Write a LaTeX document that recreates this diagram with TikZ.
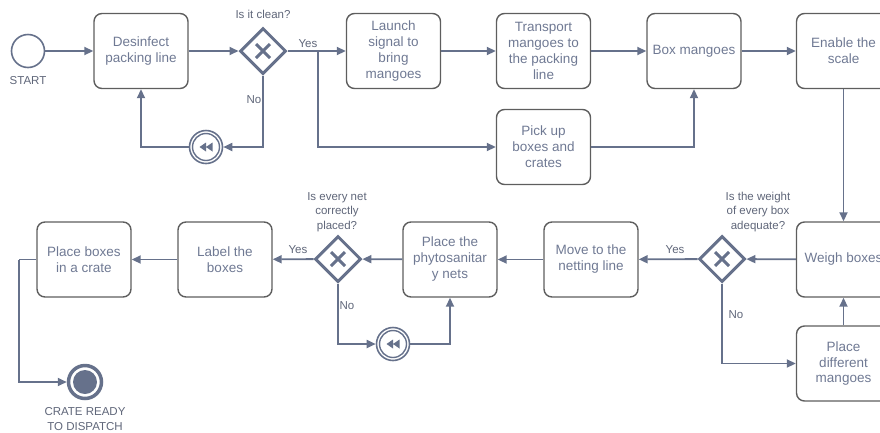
\documentclass[tikz,border=0pt]{standalone}
\usepackage{fontspec}
\setmainfont{Liberation Sans}
\usetikzlibrary{shapes.geometric,arrows.meta}
\definecolor{edgec}{HTML}{66718B}
\definecolor{boxc}{HTML}{5E5E5E}
\definecolor{txtc}{HTML}{6F7993}
\definecolor{lblc}{HTML}{5F6679}
\tikzset{
  task/.style={draw=boxc, line width=1.4pt, rounded corners=8pt, minimum width=94pt, minimum height=75pt, inner sep=0pt, align=center, text=txtc, font=\fontsize{13.5pt}{16pt}\selectfont},
  gate/.style={draw=edgec, line width=3pt, diamond, aspect=1, minimum width=46pt, minimum height=46pt, inner sep=0pt},
  ev/.style={draw=edgec, circle, minimum size=33pt, inner sep=0pt, line width=1.6pt},
  flow/.style={draw=edgec, line width=1.8pt, -{Triangle[length=9pt,width=8pt]}},
  line/.style={draw=edgec, line width=1.8pt},
  lbl/.style={text=lblc, font=\fontsize{11.5pt}{14.5pt}\selectfont, align=center, inner sep=0pt},
}
\newcommand{\gx}[1]{\draw[edgec, line width=3pt] ([shift={(-7,-7)}]#1.center) -- ([shift={(7,7)}]#1.center) ([shift={(-7,7)}]#1.center) -- ([shift={(7,-7)}]#1.center);}
\newcommand{\comp}[1]{\draw[edgec, line width=1.4pt] (#1.center) circle[radius=13.5pt];
  \fill[edgec] ([shift={(-6.5,0)}]#1.center) -- ([shift={(0,-4.5)}]#1.center) -- ([shift={(0,4.5)}]#1.center) -- cycle
  ([shift={(0,0)}]#1.center) -- ([shift={(6.5,-4.5)}]#1.center) -- ([shift={(6.5,4.5)}]#1.center) -- cycle;}
\begin{document}
\begin{tikzpicture}[x=1pt,y=-1pt]
\useasboundingbox (0,0) rectangle (880,432);
\clip (0,0) rectangle (880,432);
% start
\node[ev] (start) at (28,51) {};
\node[lbl] (startl) at (28,81) {START};
% row 1
\node[task] (des) at (141,51) {Desinfect\\packing line};
\node[gate] (g1) at (263,51) {};
\gx{g1}
\node[lbl] (g1l) at (263,14) {Is it clean?};
\node[task] (launch) at (393.5,51) {Launch\\signal to\\bring\\mangoes};
\node[task] (trans) at (543.5,51) {Transport\\mangoes to\\the packing\\line};
\node[task] (pick) at (543.5,147) {Pick up\\boxes and\\crates};
\node[task] (boxm) at (694,51) {Box mangoes};
\node[task] (enable) at (843.5,51) {Enable the\\scale};
\node[ev] (ev1) at (206,147) {};
\comp{ev1}
\coordinate (split) at (318,51);
% row 2
\node[task] (weigh) at (843.5,259.5) {Weigh boxes};
\node[task] (diff) at (843.5,363.5) {Place\\different\\mangoes};
\node[gate] (g2) at (722,259) {};
\gx{g2}
\node[lbl] (g2l) at (758,212) {Is the weight\\of every box\\adequate?};
\node[task] (move) at (591,259.5) {Move to the\\netting line};
\node[task] (phyto) at (450,259.5) {Place the\\phytosanitar\\y nets};
\node[gate] (g3) at (338,259) {};
\gx{g3}
\node[lbl] (g3l) at (337,212) {Is every net\\correctly\\placed?};
\node[task] (labelb) at (225,259.5) {Label the\\boxes};
\node[task] (crate) at (84,259.5) {Place boxes\\in a crate};
\node[ev] (ev2) at (393,344) {};
\comp{ev2}
\node[circle, draw=edgec, line width=3.5pt, minimum size=33pt, inner sep=0pt] (endev) at (85,382) {};
\fill[edgec] (endev.center) circle[radius=12pt];
\node[lbl] (endl) at (85,419) {CRATE READY\\TO DISPATCH};
\coordinate (cr) at (19,259.5);
% connectors row 1
\draw[flow] (start) -- (des);
\draw[flow] (des) -- (g1);
\draw[flow] (g1) -- (launch);
\node[lbl] (yes1) at (308,44) {Yes};
\draw[flow] (split) |- (pick.west);
\draw[flow] (g1.south) |- (ev1.east);
\node[lbl] (no1) at (254,100) {No};
\draw[flow] (ev1.west) -| (des.south);
\draw[flow] (launch) -- (trans);
\draw[flow] (trans) -- (boxm);
\draw[flow] (boxm) -- (enable);
\draw[flow] (pick.east) -| (boxm.south);
\draw[flow] (enable) -- (weigh);
% row 2
\draw[flow] (diff) -- (weigh);
\draw[flow] (weigh) -- (g2);
\draw[flow] (g2) -- (move);
\node[lbl] (yes2) at (675,250) {Yes};
\draw[flow] (g2.south) |- (diff.west);
\node[lbl] (no2) at (736,315) {No};
\draw[flow] (move) -- (phyto);
\draw[flow] (phyto) -- (g3);
\draw[flow] (g3) -- (labelb);
\node[lbl] (yes3) at (298,250) {Yes};
\draw[flow] (g3.south) |- (ev2.west);
\node[lbl] (no3) at (347,306) {No};
\draw[flow] (ev2.east) -| (phyto.south);
\draw[flow] (labelb) -- (crate);
\draw[line] (crate.west) -- (cr);
\draw[flow] (cr) |- (endev.west);
\end{tikzpicture}
\end{document}
